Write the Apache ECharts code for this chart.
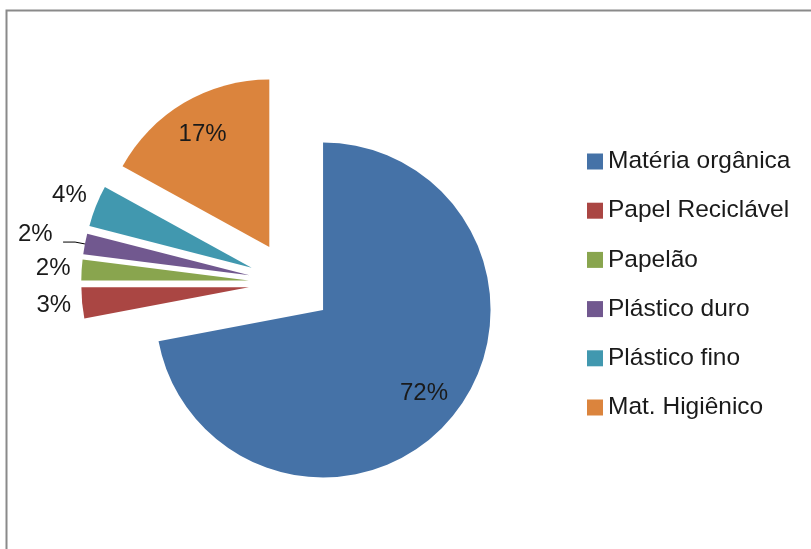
<!DOCTYPE html>
<html>
<head>
<meta charset="utf-8">
<script src="https://cdn.jsdelivr.net/npm/echarts@6/dist/echarts.min.js"></script>
<style>
html,body{margin:0;padding:0;background:#fff;}
#chart{width:811px;height:549px;}
</style>
</head>
<body>
<div id="chart"></div>
<script>
const categories = ['Matéria orgânica', 'Papel Reciclável', 'Papelão', 'Plástico duro', 'Plástico fino', 'Mat. Higiênico'];
const values = [72, 3, 2, 2, 4, 17];
const colors = ['#4572A7', '#AA4643', '#89A54E', '#71588F', '#4198AF', '#DB843D'];

const FONT = '"Liberation Sans", Arial, sans-serif';
const TXT = '#1a1a1a';
const CENTER = [290.7, 283.2];
const R = 167.5;
const OFFSET = 42;
const bigLabels = [0, 5];
const smallInsideLabels = [1, 2, 4];
const leaderLabel = 3;

function mainData() {
  return categories.map((n, i) => {
    const item = { name: n, value: values[i], selected: true, itemStyle: { color: colors[i] } };
    if (i === leaderLabel) {
      item.label = {
        show: true, position: 'outside', formatter: ' ',
        fontFamily: FONT, fontSize: 24, color: TXT, distanceToLabelLine: 5
      };
      item.labelLine = { show: true, length: 10, length2: 12, smooth: false, lineStyle: { color: '#000', width: 1 } };
    }
    return item;
  });
}
function overlayData(show) {
  return categories.map((n, i) => ({
    name: n, value: values[i], selected: true,
    itemStyle: { color: 'rgba(0,0,0,0)' },
    label: { show: show.indexOf(i) >= 0 }
  }));
}
const overlayBase = {
  type: 'pie', center: CENTER, startAngle: 90, clockwise: true,
  selectedMode: 'multiple', selectedOffset: OFFSET, silent: true,
  legendHoverLink: false, avoidLabelOverlap: false, animation: false,
  emphasis: { disabled: true }, select: { itemStyle: { borderWidth: 0 } },
  labelLine: { show: false },
  itemStyle: { borderWidth: 0 }
};
const labelStyle = { position: 'inside', formatter: '{c}%', fontFamily: FONT, fontSize: 24, color: TXT };

const chart = echarts.init(document.getElementById('chart'), null, { renderer: 'canvas' });
chart.setOption({
  animation: false,
  backgroundColor: '#ffffff',
  graphic: [{
    type: 'rect', left: 4, top: 8, silent: true,
    shape: { width: 830, height: 560 },
    style: { fill: 'none', stroke: '#8a8a8a', lineWidth: 2 }
  }],
  legend: {
    orient: 'vertical', left: 587, top: 149, padding: 0,
    itemWidth: 16, itemHeight: 16, itemGap: 24.2, icon: 'rect',
    textStyle: { fontFamily: FONT, fontSize: 24.5, color: TXT, lineHeight: 24 },
    data: categories.map((n, i) => ({ name: n, itemStyle: { color: colors[i] } })),
    selectedMode: false
  },
  series: [
    {
      type: 'pie', center: CENTER, radius: R, startAngle: 90, clockwise: true,
      selectedMode: 'multiple', selectedOffset: OFFSET,
      avoidLabelOverlap: false, animation: false,
      emphasis: { disabled: true }, select: { itemStyle: { borderWidth: 0 } },
      itemStyle: { borderWidth: 0 },
      label: { show: false },
      labelLine: { show: false },
      data: mainData()
    },
    Object.assign({}, overlayBase, { radius: 256, label: labelStyle, data: overlayData(bigLabels) }),
    Object.assign({}, overlayBase, { radius: 386, label: labelStyle, data: overlayData(smallInsideLabels) }),
    Object.assign({}, overlayBase, { radius: 430, label: labelStyle, data: overlayData([leaderLabel]) })
  ]
});
</script>
</body>
</html>
